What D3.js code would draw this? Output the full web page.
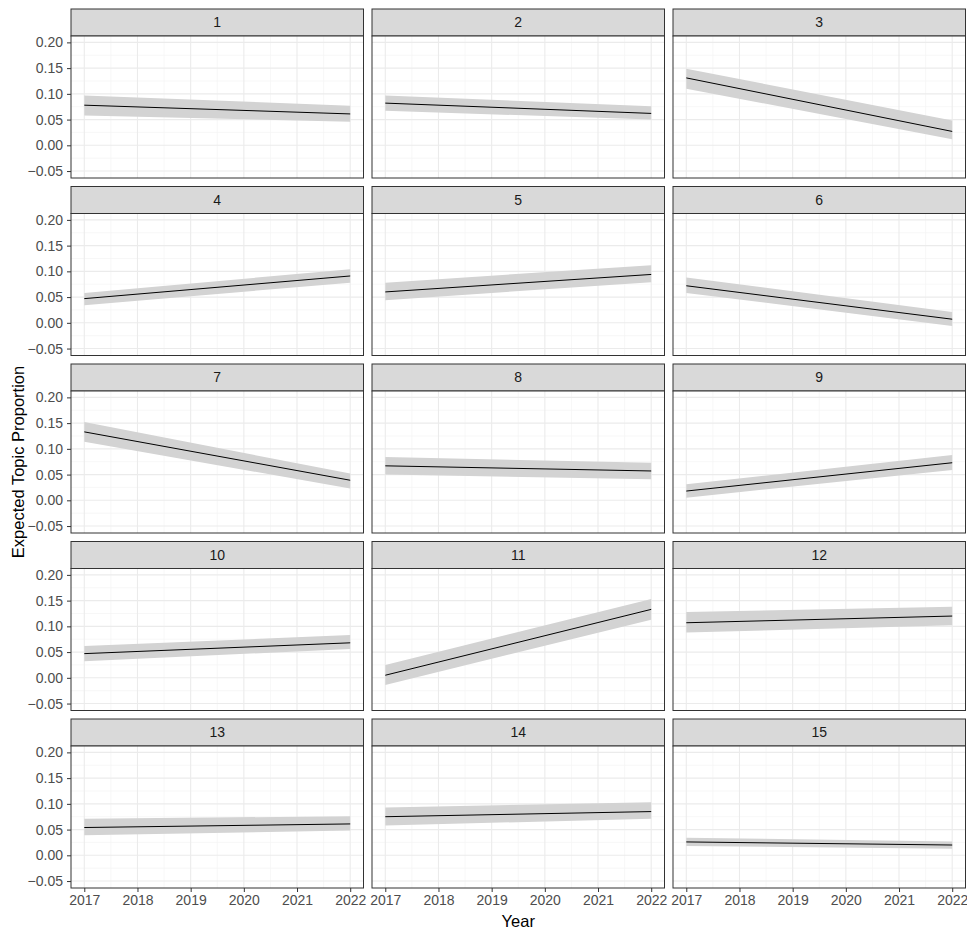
<!DOCTYPE html>
<html>
<head>
<meta charset="utf-8">
<script src="https://cdn.jsdelivr.net/npm/d3@7"></script>
<style>
  body { margin: 0; background: #fff; }
  svg { display: block; font-family: "Liberation Sans", Arial, sans-serif; }
</style>
</head>
<body>
<svg id="chart" width="967" height="932"></svg>
<script>
(function () {
  'use strict';

  // topic labels and estimated effect of year (start = 2017, end = 2022)
  const topics = ['1', '2', '3', '4', '5', '6', '7', '8', '9', '10', '11', '12', '13', '14', '15'];
  const years = [2017, 2022];
  const meanStart  = [0.078, 0.082, 0.131, 0.047, 0.060, 0.072, 0.133, 0.067, 0.018, 0.047, 0.005, 0.107, 0.054, 0.075, 0.026];
  const meanEnd    = [0.061, 0.062, 0.027, 0.091, 0.094, 0.007, 0.039, 0.057, 0.073, 0.068, 0.133, 0.120, 0.061, 0.085, 0.020];
  const lowerStart = [0.058, 0.067, 0.110, 0.034, 0.044, 0.058, 0.114, 0.050, 0.005, 0.032, -0.014, 0.088, 0.039, 0.058, 0.018];
  const upperStart = [0.097, 0.097, 0.149, 0.058, 0.078, 0.088, 0.152, 0.084, 0.031, 0.062, 0.025, 0.128, 0.071, 0.093, 0.034];
  const lowerEnd   = [0.046, 0.050, 0.012, 0.078, 0.079, -0.006, 0.023, 0.041, 0.059, 0.056, 0.113, 0.102, 0.048, 0.071, 0.013];
  const upperEnd   = [0.077, 0.076, 0.048, 0.104, 0.112, 0.021, 0.052, 0.073, 0.088, 0.083, 0.153, 0.138, 0.076, 0.103, 0.027];
  const yTicks = [-0.05, 0.00, 0.05, 0.10, 0.15, 0.20];
  const xTicks = [2017, 2018, 2019, 2020, 2021, 2022];

  const svg = d3.select('#chart');
  const nCols = 3;
  const left = 71, top = 9;
  const panelW = 292.5, colStep = 301;
  const stripH = 27, panelH = 142, rowStep = 177.5;
  const nRows = Math.ceil(topics.length / nCols);
  const fontFamily = '"Liberation Sans", Arial, sans-serif';

  const x = d3.scaleLinear().domain([2016.75, 2022.25]).range([0, panelW]);
  const y = d3.scaleLinear().domain([-0.0635, 0.2124]).range([panelH, 0]);

  const yMinor = d3.range(yTicks.length - 1).map(i => (yTicks[i] + yTicks[i + 1]) / 2)
    .concat([yTicks[yTicks.length - 1] + 0.025]).filter(v => v < y.domain()[1]);
  const xMinor = d3.range(xTicks.length - 1).map(i => (xTicks[i] + xTicks[i + 1]) / 2);

  const area = d3.area()
    .x(d => x(d.year))
    .y0(d => y(d.lower))
    .y1(d => y(d.upper));
  const line = d3.line()
    .x(d => x(d.year))
    .y(d => y(d.mean));

  topics.forEach((topic, i) => {
    const col = i % nCols, row = Math.floor(i / nCols);
    const g = svg.append('g')
      .attr('transform', `translate(${left + col * colStep},${top + row * rowStep})`);

    // strip
    g.append('rect')
      .attr('x', 0).attr('y', 0)
      .attr('width', panelW).attr('height', stripH)
      .attr('fill', '#d9d9d9').attr('stroke', '#333333').attr('stroke-width', 1);
    g.append('text')
      .attr('x', panelW / 2).attr('y', stripH / 2)
      .attr('dy', '0.35em').attr('text-anchor', 'middle')
      .attr('font-size', 14).attr('fill', '#1a1a1a')
      .text(topic);

    const p = g.append('g').attr('transform', `translate(0,${stripH})`);
    p.append('rect').attr('width', panelW).attr('height', panelH).attr('fill', '#fff');

    // grid
    p.selectAll('.ymin').data(yMinor).join('line')
      .attr('x1', 0).attr('x2', panelW)
      .attr('y1', d => y(d)).attr('y2', d => y(d))
      .attr('stroke', '#f3f3f3').attr('stroke-width', 0.7);
    p.selectAll('.xmin').data(xMinor).join('line')
      .attr('y1', 0).attr('y2', panelH)
      .attr('x1', d => x(d)).attr('x2', d => x(d))
      .attr('stroke', '#f3f3f3').attr('stroke-width', 0.7);
    p.selectAll('.ymaj').data(yTicks).join('line')
      .attr('x1', 0).attr('x2', panelW)
      .attr('y1', d => y(d)).attr('y2', d => y(d))
      .attr('stroke', '#ebebeb').attr('stroke-width', 1.1);
    p.selectAll('.xmaj').data(xTicks).join('line')
      .attr('y1', 0).attr('y2', panelH)
      .attr('x1', d => x(d)).attr('x2', d => x(d))
      .attr('stroke', '#ebebeb').attr('stroke-width', 1.1);

    const pts = years.map((yr, k) => ({
      year: yr,
      mean: k === 0 ? meanStart[i] : meanEnd[i],
      lower: k === 0 ? lowerStart[i] : lowerEnd[i],
      upper: k === 0 ? upperStart[i] : upperEnd[i]
    }));

    p.append('path').datum(pts).attr('d', area).attr('fill', '#d3d3d3');
    p.append('path').datum(pts).attr('d', line)
      .attr('fill', 'none').attr('stroke', '#000').attr('stroke-width', 1);

    p.append('rect').attr('width', panelW).attr('height', panelH)
      .attr('fill', 'none').attr('stroke', '#333333').attr('stroke-width', 1);

    // axes
    if (col === 0) {
      const ya = p.append('g')
        .call(d3.axisLeft(y).tickValues(yTicks).tickFormat(d3.format('.2f')).tickSize(4).tickPadding(4));
      ya.select('.domain').remove();
      ya.selectAll('line').attr('stroke', '#333333');
      ya.selectAll('text').attr('font-size', 14).attr('fill', '#4d4d4d')
        .style('font-family', fontFamily);
    }
    if (row === nRows - 1) {
      const xa = p.append('g').attr('transform', `translate(0,${panelH})`)
        .call(d3.axisBottom(x).tickValues(xTicks).tickFormat(d3.format('d')).tickSize(4).tickPadding(3));
      xa.select('.domain').remove();
      xa.selectAll('line').attr('stroke', '#333333');
      xa.selectAll('text').attr('font-size', 14).attr('fill', '#4d4d4d')
        .style('font-family', fontFamily);
    }
  });

  // axis titles
  const totalW = (nCols - 1) * colStep + panelW;
  svg.append('text')
    .attr('x', left + totalW / 2).attr('y', 927)
    .attr('text-anchor', 'middle').attr('font-size', 16.5).attr('fill', '#000')
    .text('Year');
  svg.append('text')
    .attr('transform', `translate(24,${top + stripH + ((nRows - 1) * rowStep + panelH) / 2}) rotate(-90)`)
    .attr('text-anchor', 'middle').attr('font-size', 16.5).attr('fill', '#000')
    .text('Expected Topic Proportion');
}());
</script>
</body>
</html>
